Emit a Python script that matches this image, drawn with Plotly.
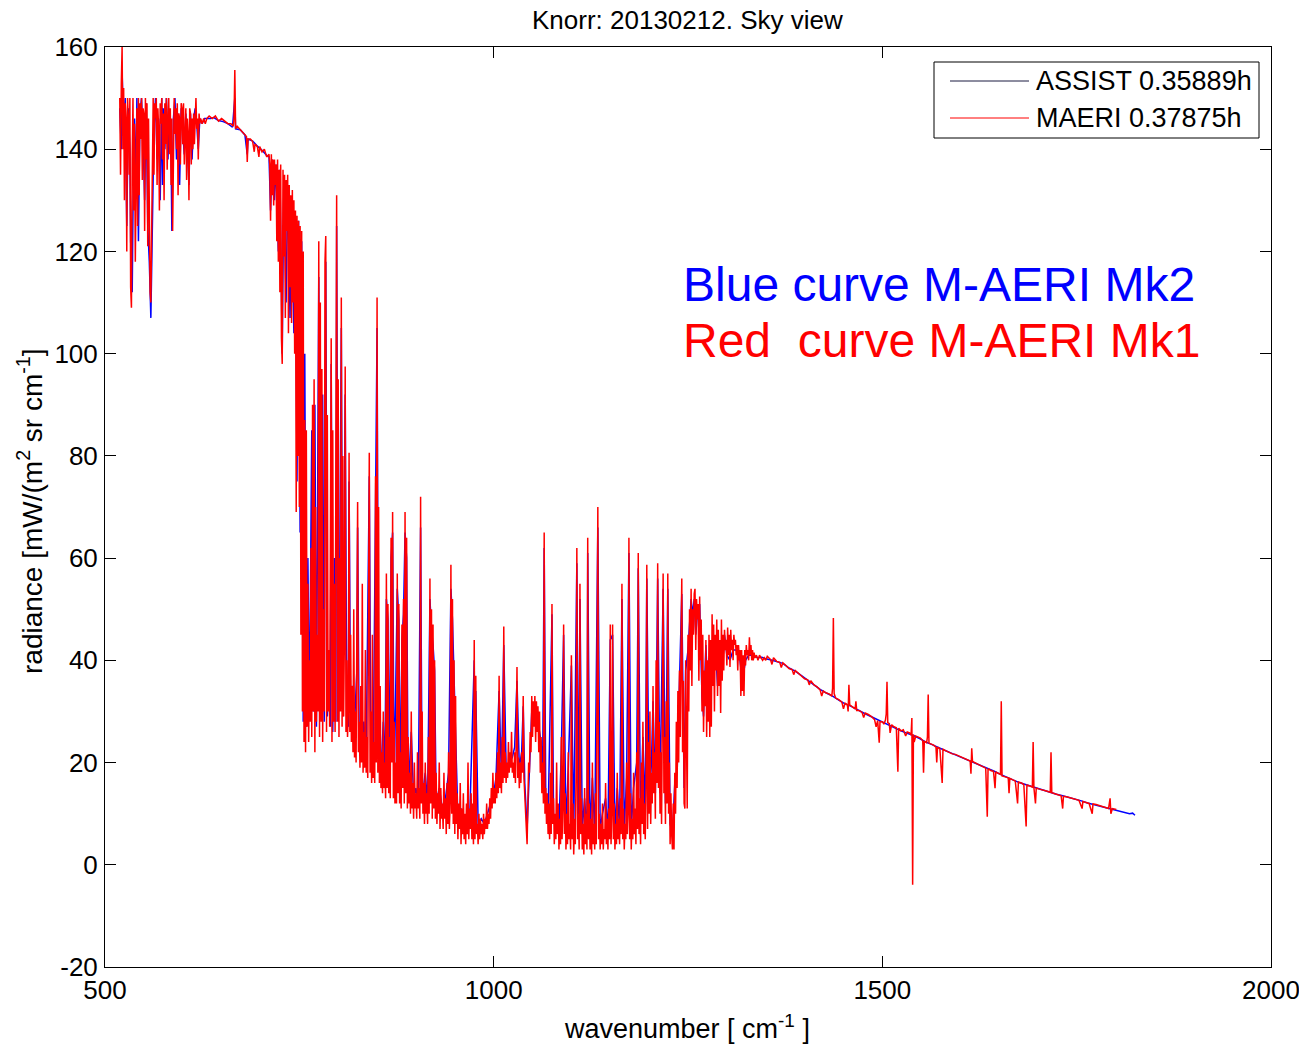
import plotly.graph_objects as go

# ---------------- data (wavenumber [cm-1], radiance) ----------------
x_ticks = [500, 1000, 1500, 2000]
y_ticks = [-20, 0, 20, 40, 60, 80, 100, 120, 140, 160]
y_tick_text = ["-20", "0", "20", "40", "60", "80", "100", "120", "140", "160"]

# MAERI (red)
maeri_far_ir = [(519,150),(520,135),(521,153),(522,160),(523,140),(524,152),(525,130),(526,149),(527,146),(528,120),
    (529,150),(530,146),(531,135),(532,150),(533,113),(534,109),(535,138),(536,150),(537,128),(538,145),(539,118),
    (540,142),(541,148),(542,125),(543,150),(544,131),(545,149),(546,142),(547,150),(548,134),(549,148),(550,147),
    (551,124),(552,150),(553,138),(554,149),(555,121),(556,146),(557,117),(558,112),(559,110),(560,126),(561,142),
    (562,150),(563,135),(564,149),(565,146),(566,150),(567,133),(568,148),(569,144),(570,128),(571,149),(572,145),
    (573,150),(574,138),(575,147),(576,130),(577,149),(578,141),(579,150),(580,136),(581,146),(582,150),(583,139),
    (584,148),(585,133),(586,146),(587,124),(588,147),(589,150),(590,143),(591,148),(592,140),(593,149),(594,131),
    (595,147),(596,146),(597,137),(598,149),(599,148),(600,141),(601,149),(602,137),(603,146),(604,148),(605,134),
    (606,146),(607,143),(608,130),(609,148),(610,147),(611,137),(612,146),(613,140),(614,147),(615,141),(616,146),
    (617,150),(618,144),(619,146),(620,138),(621,147),(622,145),(623,146),(625,145),(627,146),(629,145),(631,146)]
maeri_co2_top = [(634,146.5),(638,146),(642,146.5),(646,145.5),(650,146),(654,145.5),(658,145),(662,145),(665,144.5),
    (666,146),(667,155.5),(668,144),(670,144.5),(673,144),(676,143.5),(679,143),(682,142.5),(683,137.5),(684,142),
    (687,142),(690,141.5),(692,139.5),(693,141),(696,140.5),(698,138.5),(699,140.5),(702,139.5),(705,140),(708,138.5),(711,139)]
maeri_co2_edge = [(712,137),(713,126),(714,139),(715,131),(716,138),(717,129),(718,138),(719,133),(720,137),(721,122),
    (722,138),(723,118),(724,136),(725,112),(726,137),(727,103),(728,98),(729,136),(730,119),(731,135),(732,107),
    (733,134),(734,124),(735,135),(736,104),(737,133),(738,113),(739,131),(740,106),(741,132),(742,110),(743,130),
    (744,100),(745,128),(746,69),(747,127),(748,80),(749,126),(750,70),(751,125),(752,45),(753,124),(754,30),(755,120),
    (756,24),(757,87),(758,22),(759,85),(760,27),(761,55),(762,24),(763,40),(764,28),(765,62),(766,25),(767,90),(768,30),
    (769,95),(770,22),(771,70),(772,28),(773,45),(774,30),(775,122),(776,25),(777,110),(778,28),(779,97),(780,24),
    (781,50),(782,30),(783,118),(784,123),(785,26),(786,88),(787,30),(788,42),(789,27),(790,66),(791,103),(792,24),
    (793,85),(794,28),(795,55),(796,26),(797,78),(798,131),(799,28),(800,95),(801,25),(802,60),(803,30),(804,111),
    (805,27),(806,80),(807,29),(808,45),(809,97.5),(810,26),(811,40),(812,25)]
maeri_window_a = [(813,30),(814,80.6),(815,26),(816,45),(817,24),(818,35),(819,22),(820,50),(821,21),(822,30),(823,20),
    (824,40),(825,71),(826,22),(827,28),(828,19),(829,35),(830,20),(831,55),(832,18),(833,26),(834,19),(835,42),(836,18),
    (837,25),(838,17),(839,60),(840,80.6),(841,18),(842,30),(843,16),(844,45),(845,17),(846,24),(847,16),(848,76),
    (849,20),(850,111),(851,18),(852,70),(853,16),(854,35),(855,15),(856,22),(857,14),(858,30),(859,15),(860,20),
    (861,13),(862,57),(863,15),(864,51),(865,14),(866,25),(867,13),(868,64),(869,20),(870,69),(871,13),(872,28),
    (873,12),(874,20),(875,12),(876,57),(877,14),(878,51),(879,12),(880,22),(881,11),(882,47),(883,15),(884,52),
    (885,12),(886,69),(887,14),(888,64),(889,11),(890,25),(891,12),(892,18),(893,10),(894,30),(895,11),(896,16),
    (897,9),(898,20),(899,11),(900,14),(901,9),(902,22),(903,11),(904,15),(905,9),(906,72),(907,12),(908,30),(909,10),
    (910,16),(911,8),(912,20),(913,10),(914,14),(915,8),(916,25),(917,10),(918,56),(919,12),(920,50),(921,9),(922,47),
    (923,11),(924,40),(925,9),(926,18),(927,8),(928,14),(929,10),(930,20),(931,7),(932,15),(933,9),(934,12),(935,7),
    (936,18),(937,9),(938,13),(939,6),(940,16),(941,8),(942,22),(943,7),(944,12),(945,58.7),(946,10),(947,52),(948,8),
    (949,40),(950,6),(951,33),(952,8),(953,14),(954,5),(955,12),(956,7),(957,16),(958,4),(959,11),(960,6),(961,14),
    (962,5),(963,10),(964,4),(965,12),(966,6),(967,20),(968,5),(969,11),(970,7),(971,14),(972,5),(973,12),(974,4),
    (975,44),(976,5),(977,37),(978,6),(979,8),(980,4),(981,10),(982,5),(983,9),(984,6),(985,8),(986,5),(987,10),
    (988,6),(989,9),(990,7),(991,12),(992,7),(993,10),(994,8),(995,13),(996,9),(997,15),(998,11),(999,18),(1000,12)]
maeri_window_b = [(1001,15),(1002,12),(1003,18),(1004,13),(1005,22),(1006,14),(1007,37),(1008,15),(1009,20),(1010,14),
    (1011,25),(1012,16),(1013,46.6),(1014,17),(1015,22),(1016,16),(1017,20),(1018,17),(1019,24),(1020,18),(1021,22),
    (1022,19),(1023,26),(1024,18),(1025,20),(1026,17),(1027,22),(1028,16),(1029,24),(1030,38.7),(1031,17),(1032,21),
    (1033,15),(1034,20),(1035,16),(1036,22),(1037,18),(1038,33),(1039,17),(1040,14),(1041,10),(1042,6),(1043,4),
    (1044,12),(1045,20),(1046,18),(1047,26),(1048,22),(1049,33),(1050,25),(1051,32),(1052,27),(1053,33),(1054,24),
    (1055,32),(1056,26),(1057,31),(1058,22),(1059,30),(1060,18),(1061,25),(1062,14),(1063,20),(1064,12),(1065,65),
    (1066,10),(1067,15)]
maeri_ozone = [(1068,8),(1069,14),(1070,6),(1071,12),(1072,5),(1073,18),(1074,6),(1075,51),(1076,8),(1077,13),(1078,4),
    (1079,10),(1080,5),(1081,20),(1082,6),(1083,12),(1084,3),(1085,9),(1086,4),(1087,25),(1088,5),(1089,11),(1090,47),
    (1091,6),(1092,14),(1093,3),(1094,10),(1095,4),(1096,22),(1097,5),(1098,8),(1099,3),(1100,41),(1101,5),(1102,12),
    (1103,2),(1104,9),(1105,4),(1106,18),(1107,62),(1108,5),(1109,10),(1110,3),(1111,55),(1112,6),(1113,13),(1114,3),
    (1115,8),(1116,2),(1117,15),(1118,4),(1119,10),(1120,3),(1121,64),(1122,5),(1123,12),(1124,3),(1125,9),(1126,2),
    (1127,20),(1128,4),(1129,8),(1130,3),(1131,14),(1132,4),(1133,30),(1134,70),(1135,5),(1136,10),(1137,3),(1138,8),
    (1139,4),(1140,12),(1141,3),(1142,7),(1143,5),(1144,16),(1145,4),(1146,9),(1147,3),(1148,11),(1149,5),(1150,47),
    (1151,4),(1152,10),(1153,47),(1154,5),(1155,12),(1156,3),(1157,8),(1158,4),(1159,18),(1160,5),(1161,9),(1162,4),
    (1163,13),(1164,6),(1165,55),(1166,5),(1167,11),(1168,3),(1169,8),(1170,5),(1171,20),(1172,6),(1173,10),(1174,64),
    (1175,5),(1176,14),(1177,3),(1178,9),(1179,5),(1180,18),(1181,6),(1182,11),(1183,4),(1184,22),(1185,7),(1186,61),
    (1187,6),(1188,13),(1189,4),(1190,20),(1191,8),(1192,28),(1193,6),(1194,12),(1195,5),(1196,16),(1197,58.7),(1198,7),
    (1199,24),(1200,10),(1201,30),(1202,8),(1203,18),(1204,12),(1205,35),(1206,14),(1207,22),(1208,9),(1209,40),
    (1210,16),(1211,59),(1212,15),(1213,28),(1214,10),(1215,22),(1216,8),(1217,30),(1218,57),(1219,14),(1220,25),
    (1221,8),(1222,32),(1223,12),(1224,57),(1225,10),(1226,20),(1227,4),(1228,14),(1229,6),(1230,3),(1231,12),(1232,3),
    (1233,18),(1234,10),(1235,28),(1236,15),(1237,34),(1238,20),(1239,38),(1240,25),(1241,42),(1242,56),(1243,22),
    (1244,36),(1245,12)]
maeri_water_edge = [(1246,11),(1247,40),(1248,25),(1249,11),(1250,45),(1251,30),(1252,50),(1253,38),(1254,54),(1255,35),
    (1256,50),(1257,45),(1258,53),(1259,54),(1260,42),(1261,52),(1262,48),(1263,51),(1264,36),(1265,52.5),(1266,40),
    (1267,48),(1268,30),(1269,45),(1270,26),(1271,38),(1272,31),(1273,44),(1274,25),(1275,40),(1276,28),(1277,45),
    (1278,25),(1279,44),(1280,27),(1281,49),(1282,35),(1283,47),(1284,30),(1285,45),(1286,38),(1287,48),(1288,33),
    (1289,46),(1290,35),(1291,44),(1292,29.7),(1293,48),(1294,36),(1295,45),(1296,38),(1297,46),(1298,42),(1299,44),
    (1300,39),(1301,46.4),(1302,41),(1303,45),(1304,38.7),(1305,46),(1306,42),(1307,44),(1308,40),(1309,45),(1310,43),
    (1311,44),(1312,41),(1313,43),(1314,38),(1315,43),(1316,40),(1317,42),(1318,33),(1319,42),(1320,34),(1321,41),
    (1322,33),(1323,42),(1324,39),(1325,43),(1326,41),(1327,42),(1328,40),(1329,44.5),(1330,41),(1331,43),(1332,40),
    (1333,42),(1334,40),(1335,41.5),(1336,40.5),(1338,41),(1340,40),(1342,41),(1344,40.5),(1346,40),(1348,40.5),(1350,40)]
maeri_water_band = [(1352,40.8),(1356,40.2),(1358,39.2),(1360,40.5),(1364,39.8),(1368,39.6),(1370,38.6),(1372,39.5),
    (1376,39.0),(1380,38.4),(1384,38.2),(1386,37.2),(1388,38.0),(1392,37.5),(1396,37.0),(1400,36.4),(1404,36.2),
    (1406,35.2),(1408,36.0),(1412,35.2),(1416,34.8),(1420,34.2),(1422,33.0),(1424,34.0),(1428,33.6),(1432,33.4),
    (1435,33.0),(1436,34.5),(1437,48.3),(1438,33.5),(1440,32.6),(1444,32.3),(1448,31.8),(1450,30.5),(1452,31.6),
    (1455,31.3),(1456,30.0),(1457,35.2),(1458,31.3),(1462,30.9),(1465,30.5),(1466,32.0),(1467,30.2),(1470,30.2),
    (1474,29.8),(1476,28.8),(1478,29.7),(1482,29.4),(1486,29.0),(1490,28.4),(1492,27.0),(1494,28.2),(1496,23.9),
    (1497,28.0),(1500,28.0),(1502,27.5),(1504,28.3),(1505,29.5),(1506,35.8),(1507,27.8),(1509,27.6),(1510,25.8),
    (1512,27.4),(1515,27.0),(1518,26.8),(1520,18.2),(1521,26.7),(1524,26.2),(1527,26.4),(1530,25.2),(1532,26.0),
    (1535,25.8),(1537,25.4),(1538,28.7),(1539,-3.9),(1540,25.5),(1541,24.0),(1543,25.2),(1546,25.0),(1549,24.8),
    (1552,24.3),(1553,18.0),(1554,24.2),(1557,23.9),(1558,25.0),(1559,33.3),(1560,23.8),(1563,23.6),(1566,23.4),
    (1569,23.0),(1570,20.0),(1571,23.0),(1574,22.7),(1577,16.0),(1578,22.6),(1582,22.3),(1586,22.0),(1590,21.7),
    (1594,21.6),(1598,21.3),(1602,21.0),(1606,20.8),(1610,20.5),(1613,20.3),(1614,17.8),(1615,22.8),(1616,20.2),
    (1620,19.9),(1624,19.6),(1627,19.4),(1630,19.1),(1633,18.9),(1635,9.4),(1636,18.8),(1640,18.4),(1643,18.3),
    (1645,15.0),(1646,18.2),(1649,17.9),(1652,17.7),(1653,32.0),(1654,17.4),(1658,17.2),(1662,17.0),(1663,14.0),
    (1664,16.9),(1668,16.6),(1671,16.4),(1674,12.0),(1675,16.2),(1679,16.0),(1682,15.7),(1685,7.5),(1686,15.6),
    (1690,15.4),(1693,15.2),(1694,24.0),(1695,15.1),(1697,12.0),(1698,15.0),(1702,14.8),(1706,14.7),(1710,14.5),
    (1714,14.3),(1716,14.2),(1717,22.0),(1718,14.1),(1722,13.9),(1726,13.7),(1730,13.5),(1732,11.0),(1733,13.4),
    (1737,13.3),(1741,13.1),(1745,12.9),(1749,12.7),(1753,12.6),(1757,11.0),(1758,12.4),(1762,12.2),(1766,12.0),
    (1770,10.0),(1771,11.9),(1775,11.8),(1779,11.6),(1783,11.4),(1787,11.2),(1791,11.0),(1793,13.0),(1794,10.0),
    (1796,11.0),(1799,10.9),(1801,10.8)]

# ASSIST (blue)
assist_far_ir = [(519,148),(521,140),(522,155),(524,145),(526,150),(528,125),(530,148),(532,140),(533,122),(535,112),
    (536,128),(538,146),(540,132),(541,150),(543,122),(545,147),(547,150),(549,142),(551,130),(553,149),(555,125),
    (557,118),(559,107),(561,130),(563,144),(565,150),(567,138),(569,146),(571,130),(573,150),(574,133),(575,148),
    (577,140),(579,150),(581,138),(583,147),(585,140),(586,124),(588,146),(590,150),(592,138),(594,147),(596,133),
    (598,148),(600,144),(602,139),(604,147),(606,140),(608,133),(610,147),(612,138),(614,146),(616,148),(618,145),
    (620,140),(622,146),(625,145),(628,146),(632,146)]
assist_co2_top = [(636,146),(640,146.2),(646,145.6),(652,145.4),(658,145),(664,144.3),(667,150),(668,144),(674,143.8),
    (680,142.8),(683,139),(684,142),(690,141.6),(696,140.6),(702,139.8),(708,138.8),(711,138.5)]
assist_co2_edge = [(713,128),(715,138),(718,130),(720,137),(723,120),(725,136),(728,100),(730,134),(733,110),(735,133),
    (738,107),(740,130),(743,104),(745,127),(747,75),(749,126),(751,65),(753,122),(755,28),(757,100),(759,27),(761,60),
    (763,29),(766,85),(768,30),(770,90),(772,27),(775,115),(777,30),(780,92),(782,28),(784,118),(786,29),(788,40),
    (790,27),(791,98),(793,26),(795,60),(797,28),(798,125),(800,30),(802,58),(804,105),(806,29),(809,92),(811,28)]
assist_window_a = [(813,27),(814,75),(816,26),(818,35),(820,24),(824,38),(825,66),(827,24),(830,22),(833,28),(836,21),
    (840,76),(842,20),(845,19),(848,70),(850,105),(852,19),(855,18),(858,28),(860,17),(862,52),(864,48),(866,16),
    (868,60),(870,65),(872,15),(876,54),(878,48),(880,14),(882,44),(884,49),(886,65),(888,60),(890,14),(894,26),
    (897,13),(900,15),(903,12),(906,66),(908,13),(912,18),(915,12),(918,52),(920,46),(922,43),(924,38),(926,12),
    (930,15),(934,11),(938,13),(942,18),(945,54),(947,48),(949,37),(951,30),(954,9),(958,11),(962,9),(966,10),(969,8),
    (975,40),(976,9),(977,34),(980,8),(984,9),(988,8),(992,10),(996,12),(1000,14)]
assist_window_b = [(1003,17),(1007,34),(1010,17),(1013,43),(1016,19),(1020,20),(1024,21),(1027,23),(1030,36),(1033,19),
    (1036,22),(1038,31),(1040,16),(1043,7),(1046,20),(1049,30),(1052,29),(1055,31),(1058,27),(1061,24),(1063,18),
    (1065,62),(1067,13)]
assist_ozone = [(1070,9),(1075,49),(1077,10),(1080,8),(1084,7),(1087,22),(1090,45),(1093,7),(1096,19),(1100,39),(1103,6),
    (1107,59),(1109,8),(1111,52),(1114,7),(1117,13),(1120,6),(1121,61),(1124,6),(1127,17),(1130,6),(1134,66),(1137,7),
    (1140,10),(1144,13),(1147,6),(1150,44),(1153,45),(1156,6),(1159,15),(1162,7),(1165,52),(1168,7),(1171,17),(1174,61),
    (1177,7),(1180,15),(1184,20),(1186,58),(1189,8),(1192,25),(1195,9),(1197,56),(1200,12),(1203,20),(1205,32),(1208,14),
    (1211,56),(1214,14),(1218,54),(1221,12),(1224,54),(1227,8),(1230,6),(1233,16),(1236,18),(1239,36),(1242,53),(1245,15)]
assist_water_edge = [(1247,38),(1250,42),(1252,48),(1254,52),(1256,49),(1258,52),(1260,45),(1262,49),(1265,51),(1268,33),
    (1270,29),(1273,43),(1276,31),(1279,43),(1282,37),(1285,44),(1288,35),(1291,43),(1294,38),(1297,45),(1300,41),
    (1304,40),(1308,42),(1312,42),(1316,41),(1320,36),(1324,40),(1328,41),(1332,41),(1336,40.8),(1340,40.5),(1345,40.6),
    (1350,40.3)]
assist_water_band = [(1356,40.1),(1364,39.7),(1372,39.4),(1380,38.5),(1388,37.9),(1396,37.0),(1404,36.1),(1412,35.2),
    (1420,34.3),(1428,33.6),(1436,33.0),(1444,32.2),(1452,31.5),(1460,31.0),(1468,30.3),(1476,29.7),(1484,29.1),
    (1492,28.5),(1500,27.9),(1508,27.4),(1516,26.8),(1524,26.2),(1532,25.7),(1540,25.3),(1548,24.7),(1556,24.0),
    (1564,23.5),(1572,22.9),(1580,22.4),(1588,21.9),(1596,21.4),(1604,20.9),(1612,20.4),(1620,19.9),(1628,19.3),
    (1636,18.8),(1644,18.3),(1652,17.7),(1660,17.1),(1668,16.6),(1676,16.1),(1684,15.7),(1692,15.3),(1700,14.9),
    (1708,14.6),(1716,14.2),(1724,13.8),(1732,13.5),(1740,13.2),(1748,12.8),(1756,12.5),(1764,12.1),(1772,11.8),
    (1780,11.5),(1788,11.2),(1796,10.9),(1804,10.6),(1812,10.3),(1818,10.0),(1822,10.1),(1825,9.7)]

legend_labels = ["ASSIST 0.35889h", "MAERI 0.37875h"]
title_text = "Knorr: 20130212. Sky view"


def join(*segments):
    xs, ys = [], []
    for seg in segments:
        for wn, rad in seg:
            xs.append(wn)
            ys.append(rad)
    return xs, ys


ax, ay = join(assist_far_ir, assist_co2_top, assist_co2_edge, assist_window_a, assist_window_b,
              assist_ozone, assist_water_edge, assist_water_band)
mx, my = join(maeri_far_ir, maeri_co2_top, maeri_co2_edge, maeri_window_a, maeri_window_b,
              maeri_ozone, maeri_water_edge, maeri_water_band)

FONT = "Arial, Liberation Sans, Helvetica, sans-serif"

fig = go.Figure()
fig.add_trace(go.Scatter(x=ax, y=ay, mode="lines", line=dict(color="#0000ff", width=1.5),
                         name=legend_labels[0], showlegend=False))
fig.add_trace(go.Scatter(x=mx, y=my, mode="lines", line=dict(color="#ff0000", width=1.5),
                         name=legend_labels[1], showlegend=False))

L, R, T, B = 105, 28, 47, 78
W, H = 1299, 1045
PW, PH = W - L - R, H - T - B


def px(xp):
    return (xp - L) / PW


def py(yp):
    return (H - B - yp) / PH


axis_common = dict(showline=True, linecolor="black", linewidth=1, mirror="ticks",
                   ticks="inside", ticklen=11, tickcolor="black", tickwidth=1,
                   showgrid=False, zeroline=False, ticklabeloverflow="allow", automargin=False,
                   tickfont=dict(family=FONT, size=26, color="black"))
fig.update_xaxes(range=[500, 2000], tickvals=x_ticks, ticklabelstandoff=0, **axis_common)
fig.update_yaxes(range=[-20, 160], tickvals=y_ticks, ticktext=y_tick_text, ticklabelstandoff=1, **axis_common)

annotations = [
    dict(text=title_text, x=px(687), y=py(20), xref="paper", yref="paper", showarrow=False,
         xanchor="center", yanchor="middle", font=dict(family=FONT, size=26, color="black")),
    dict(text="wavenumber [ cm<sup>-1</sup> ]", x=px(687), y=py(1027), xref="paper", yref="paper",
         showarrow=False, xanchor="center", yanchor="middle", font=dict(family=FONT, size=27, color="black")),
    dict(text="radiance [mW/(m<sup>2</sup> sr cm<sup>-1</sup>]", x=px(30), y=py(511), xref="paper", yref="paper",
         showarrow=False, textangle=-90, xanchor="center", yanchor="middle",
         font=dict(family=FONT, size=28, color="black")),
    dict(text="Blue curve M-AERI Mk2", x=px(681), y=py(284), xref="paper", yref="paper", showarrow=False,
         xanchor="left", yanchor="middle", font=dict(family=FONT, size=48, color="#0000ff")),
    dict(text="Red\u00a0 curve M-AERI Mk1", x=px(681), y=py(340), xref="paper", yref="paper", showarrow=False,
         xanchor="left", yanchor="middle", font=dict(family=FONT, size=48, color="#ff0000")),
    dict(text=legend_labels[0], x=px(1034), y=py(81), xref="paper", yref="paper", showarrow=False,
         xanchor="left", yanchor="middle", font=dict(family=FONT, size=27, color="black")),
    dict(text=legend_labels[1], x=px(1034), y=py(118), xref="paper", yref="paper", showarrow=False,
         xanchor="left", yanchor="middle", font=dict(family=FONT, size=27, color="black")),
]

shapes = [
    dict(type="rect", xref="paper", yref="paper", x0=px(934), x1=px(1259), y0=py(138), y1=py(62),
         line=dict(color="black", width=1), fillcolor="white"),
    dict(type="line", xref="paper", yref="paper", x0=px(950), x1=px(1029), y0=py(81), y1=py(81),
         line=dict(color="#1a1a40", width=1)),
    dict(type="line", xref="paper", yref="paper", x0=px(950), x1=px(1029), y0=py(118), y1=py(118),
         line=dict(color="#ff0000", width=1)),
]

fig.update_layout(width=W, height=H, autosize=False,
                  margin=dict(l=L, r=R, t=T, b=B, pad=0, autoexpand=False),
                  paper_bgcolor="white", plot_bgcolor="white",
                  annotations=annotations, shapes=shapes, showlegend=False)

fig.write_html("out.html", config={"displayModeBar": False},
               post_script="document.body.style.margin='0px';document.body.style.overflow='hidden';")
